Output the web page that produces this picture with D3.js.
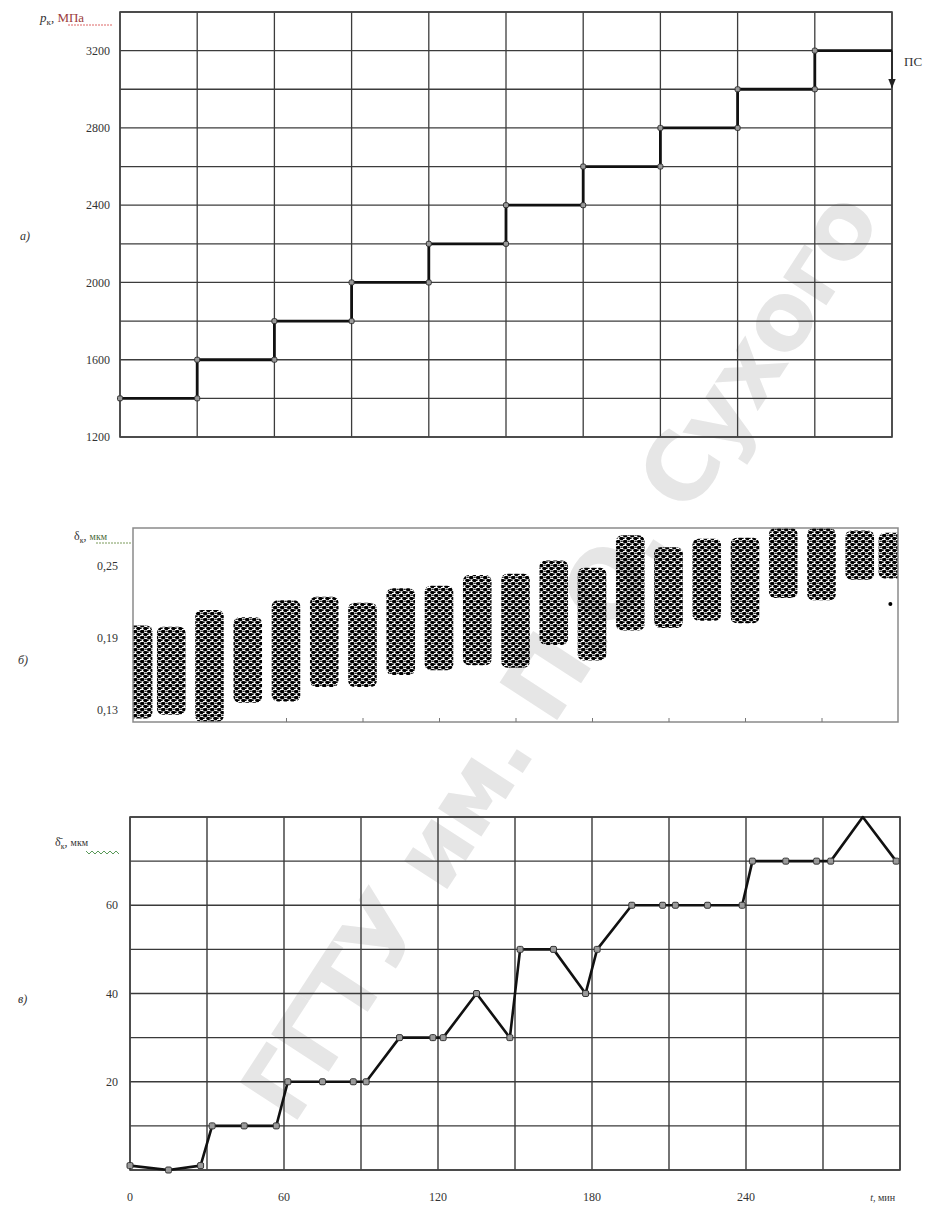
<!DOCTYPE html>
<html>
<head>
<meta charset="utf-8">
<script src="https://cdn.jsdelivr.net/npm/d3@7"></script>
<style>
  body { margin: 0; background: #fff; }
  text { font-family: "Liberation Serif", "DejaVu Serif", serif; fill: #333; }
</style>
</head>
<body>
<script>
// ---- data ----
const gridTimes = [0, 30, 60, 90, 120, 150, 180, 210, 240, 270, 300];
const xTickTimes = [0, 60, 120, 180, 240];

// a) pressure steps
const pressureGrid = [1200, 1400, 1600, 1800, 2000, 2200, 2400, 2600, 2800, 3000, 3200, 3400];
const pressureTicks = [1200, 1600, 2000, 2400, 2800, 3200];
const stepTimes = [0, 30, 60, 90, 120, 150, 180, 210, 240, 270];
const stepPressure = [1400, 1600, 1800, 2000, 2200, 2400, 2600, 2800, 3000, 3200];
const endTime = 300;
const dropPressure = 3000;

// b) scatter clusters (time, lowest, highest value)
const clusterT = [2, 15, 30, 45, 60, 75, 90, 105, 120, 135, 150, 165, 180, 195, 210, 225, 240, 255, 270, 285, 298];
const clusterLow = [0.123, 0.126, 0.120, 0.136, 0.137, 0.149, 0.149, 0.159, 0.163, 0.167, 0.165, 0.184, 0.171, 0.196, 0.198, 0.204, 0.202, 0.223, 0.221, 0.238, 0.239];
const clusterHigh = [0.200, 0.199, 0.213, 0.207, 0.221, 0.224, 0.219, 0.231, 0.233, 0.242, 0.243, 0.254, 0.248, 0.275, 0.265, 0.272, 0.273, 0.281, 0.281, 0.279, 0.277];
const outlierT = [297];
const outlierV = [0.218];
const wearTicks = [0.13, 0.19, 0.25];

// c) mean wear
const meanT = [0, 15, 27.5, 32, 44.5, 57, 61.5, 75, 87, 92, 105, 118, 122, 135, 148, 152, 165, 177.5, 182, 195.5, 207.5, 212.5, 225, 238.5, 242.5, 255.5, 267.5, 273, 285.5, 298.5];
const meanV = [1, 0, 1, 10, 10, 10, 20, 20, 20, 20, 30, 30, 30, 40, 30, 50, 50, 40, 50, 60, 60, 60, 60, 60, 70, 70, 70, 70, 80, 70];
const meanGrid = [0, 10, 20, 30, 40, 50, 60, 70, 80];
const meanTicks = [20, 40, 60];

const watermark = "ГГТУ им. П.О. Сухого";

const svg = d3.select("body").append("svg")
  .attr("width", 934)
  .attr("height", 1207);

const defs = svg.append("defs");

// speckle fill for the scatter blobs
const pat = defs.append("pattern")
  .attr("id", "speckle")
  .attr("patternUnits", "userSpaceOnUse")
  .attr("width", 7).attr("height", 6);
pat.append("rect").attr("x", 0).attr("y", 0).attr("width", 4.5).attr("height", 3.2).attr("rx", 1.4).attr("fill", "#000");
pat.append("rect").attr("x", 3.2).attr("y", 3).attr("width", 4.2).attr("height", 3).attr("rx", 1.4).attr("fill", "#000");
pat.append("rect").attr("x", 0).attr("y", 3.4).attr("width", 1.6).attr("height", 1.6).attr("fill", "#000");
pat.append("rect").attr("x", 5.2).attr("y", 0.6).attr("width", 1.4).attr("height", 1.4).attr("fill", "#000");

defs.append("marker")
  .attr("id", "arrow")
  .attr("viewBox", "0 0 10 10")
  .attr("refX", 9).attr("refY", 5)
  .attr("markerWidth", 6).attr("markerHeight", 6)
  .attr("orient", "auto")
  .append("path").attr("d", "M0,1 L10,5 L0,9 Z").attr("fill", "#222");

// watermark: letters laid one by one along the diagonal
const wm = svg.append("g");
const wmSize = 120;
const probe = wm.append("text")
  .style("font-family", "'DejaVu Sans', sans-serif")
  .style("font-weight", "bold").style("font-size", wmSize + "px");
const widths = watermark.split("").map(ch => {
  probe.text(ch === " " ? "\u00a0" : ch);
  return probe.node().getComputedTextLength();
});
probe.remove();
const total = d3.sum(widths);
const scaleW = 1080 / total;
const ang = -57 * Math.PI / 180;
let run = -540;
watermark.split("").forEach((ch, i) => {
  const w = widths[i] * scaleW;
  const c = run + w / 2;
  run += w;
  if (ch === " ") return;
  wm.append("text")
    .attr("transform", "translate(" + (560 + c * Math.cos(ang)) + "," + (655 + c * Math.sin(ang)) + ") rotate(-57)")
    .attr("text-anchor", "middle")
    .attr("dy", "0.35em")
    .style("font-family", "'DejaVu Sans', sans-serif")
    .style("font-weight", "bold")
    .style("font-size", (wmSize * Math.min(1, scaleW * 1.05)) + "px")
    .style("fill", "#e6e6e6")
    .text(ch);
});

function grid(g, xs, ys, xVals, yVals, color, width) {
  g.selectAll(".vg").data(xVals).enter().append("line")
    .attr("x1", d => xs(d)).attr("x2", d => xs(d))
    .attr("y1", ys.range()[0]).attr("y2", ys.range()[1])
    .attr("stroke", color).attr("stroke-width", width);
  g.selectAll(".hg").data(yVals).enter().append("line")
    .attr("x1", xs.range()[0]).attr("x2", xs.range()[1])
    .attr("y1", d => ys(d)).attr("y2", d => ys(d))
    .attr("stroke", color).attr("stroke-width", width);
}

function squares(g, pts, size) {
  g.selectAll(".m").data(pts).enter().append("rect")
    .attr("x", d => d[0] - size / 2).attr("y", d => d[1] - size / 2)
    .attr("width", size).attr("height", size)
    .attr("rx", 1.5)
    .attr("fill", "#9a9a9a").attr("stroke", "#333").attr("stroke-width", 1);
}

// ================= a) =================
const x1 = d3.scaleLinear().domain([0, 300]).range([120, 892]);
const y1 = d3.scaleLinear().domain([1200, 3400]).range([437, 12]);
const gA = svg.append("g");
grid(gA, x1, y1, gridTimes, pressureGrid, "#3c3c3c", 1.3);
gA.append("rect").attr("x", 120).attr("y", 12).attr("width", 772).attr("height", 425)
  .attr("fill", "none").attr("stroke", "#444").attr("stroke-width", 1.6);

const stepPts = [];
stepTimes.forEach((t, i) => {
  const next = i < stepTimes.length - 1 ? stepTimes[i + 1] : endTime;
  stepPts.push([t, stepPressure[i]]);
  stepPts.push([next, stepPressure[i]]);
});
gA.append("path")
  .attr("d", d3.line().x(d => x1(d[0])).y(d => y1(d[1]))(stepPts))
  .attr("fill", "none").attr("stroke", "#111").attr("stroke-width", 2.8);
gA.append("line")
  .attr("x1", x1(endTime)).attr("x2", x1(endTime))
  .attr("y1", y1(stepPressure[stepPressure.length - 1])).attr("y2", y1(dropPressure) - 2)
  .attr("stroke", "#222").attr("stroke-width", 1.6)
  .attr("marker-end", "url(#arrow)");

const cornerPts = [[x1(0), y1(stepPressure[0])]];
stepTimes.slice(1).forEach((t, i) => {
  cornerPts.push([x1(t), y1(stepPressure[i])]);
  cornerPts.push([x1(t), y1(stepPressure[i + 1])]);
});
squares(gA, cornerPts, 5);

gA.selectAll(".yl").data(pressureTicks).enter().append("text")
  .attr("x", 110).attr("y", d => y1(d)).attr("dy", "0.35em")
  .attr("text-anchor", "end").style("font-size", "12px")
  .text(d => d);
gA.append("text").attr("x", 904).attr("y", 66).style("font-size", "13px").text("ПС");

const tA = gA.append("text").attr("x", 40).attr("y", 22).style("font-size", "13px");
tA.append("tspan").style("font-style", "italic").text("р");
tA.append("tspan").attr("dy", 3).style("font-size", "9px").text("к");
tA.append("tspan").attr("dy", -3).text(", ");
tA.append("tspan").style("fill", "#9b3b3b").text("МПа");
gA.append("line").attr("x1", 68).attr("x2", 112).attr("y1", 25).attr("y2", 25)
  .attr("stroke", "#d66").attr("stroke-width", 1).attr("stroke-dasharray", "2,1");
gA.append("text").attr("x", 20).attr("y", 240).style("font-size", "12px")
  .style("font-style", "italic").text("а)");

// ================= б) =================
const x2 = d3.scaleLinear().domain([0, 300]).range([133, 898]);
const y2 = d3.scaleLinear().domain([0.12, 0.281]).range([722, 528]);
const gB = svg.append("g");
defs.append("clipPath").attr("id", "clipB").append("rect")
  .attr("x", 133).attr("y", 528).attr("width", 765).attr("height", 194);

const clusters = clusterT.map((t, i) => ({ t: t, lo: clusterLow[i], hi: clusterHigh[i] }));
gB.append("g").attr("clip-path", "url(#clipB)")
  .selectAll("rect").data(clusters).enter().append("rect")
  .attr("x", d => x2(d.t - 5.6))
  .attr("width", d => x2(d.t + 5.6) - x2(d.t - 5.6))
  .attr("y", d => y2(d.hi))
  .attr("height", d => y2(d.lo) - y2(d.hi))
  .attr("rx", 6)
  .attr("fill", "url(#speckle)");
gB.selectAll(".out").data(outlierT).enter().append("circle")
  .attr("cx", d => x2(d)).attr("cy", (d, i) => y2(outlierV[i])).attr("r", 2)
  .attr("fill", "#000");

gB.append("rect").attr("x", 133).attr("y", 528).attr("width", 765).attr("height", 194)
  .attr("fill", "none").attr("stroke", "#8a8a8a").attr("stroke-width", 1.5);
gB.append("g")
  .attr("transform", "translate(0,722)")
  .call(d3.axisTop(x2).tickValues(gridTimes.slice(1, -1)).tickSize(4).tickFormat(""))
  .call(g => g.select(".domain").remove())
  .selectAll("line").attr("stroke", "#777");

gB.selectAll(".yl").data(wearTicks).enter().append("text")
  .attr("x", 118).attr("y", d => y2(d)).attr("dy", "0.35em")
  .attr("text-anchor", "end").style("font-size", "12px")
  .text(d => d3.format(".2f")(d).replace(".", ","));

const tB = gB.append("text").attr("x", 74).attr("y", 540).style("font-size", "12px");
tB.append("tspan").text("δ");
tB.append("tspan").attr("dy", 3).style("font-size", "8px").text("к");
tB.append("tspan").attr("dy", -3).text(", ");
tB.append("tspan").style("fill", "#4a6a3a").style("font-size", "10px").text("мкм");
gB.append("line").attr("x1", 96).attr("x2", 132).attr("y1", 543).attr("y2", 543)
  .attr("stroke", "#7a9a5a").attr("stroke-width", 1).attr("stroke-dasharray", "2,1");
gB.append("text").attr("x", 18).attr("y", 664).style("font-size", "12px")
  .style("font-style", "italic").text("б)");

// ================= в) =================
const x3 = d3.scaleLinear().domain([0, 300]).range([130, 900]);
const y3 = d3.scaleLinear().domain([0, 80]).range([1170, 817]);
const gC = svg.append("g");
grid(gC, x3, y3, gridTimes, meanGrid, "#3a3a3a", 1.4);
gC.append("rect").attr("x", 130).attr("y", 817).attr("width", 770).attr("height", 353)
  .attr("fill", "none").attr("stroke", "#444").attr("stroke-width", 1.6);

const meanPts = meanT.map((t, i) => [t, meanV[i]]);
gC.append("path")
  .attr("d", d3.line().x(d => x3(d[0])).y(d => y3(d[1]))(meanPts))
  .attr("fill", "none").attr("stroke", "#111").attr("stroke-width", 2.6)
  .attr("stroke-linejoin", "round");
squares(gC, meanPts.filter(d => d[1] < 80).map(d => [x3(d[0]), y3(d[1])]), 6);

gC.selectAll(".yl").data(meanTicks).enter().append("text")
  .attr("x", 118).attr("y", d => y3(d)).attr("dy", "0.35em")
  .attr("text-anchor", "end").style("font-size", "12px")
  .text(d => d);
gC.selectAll(".xl").data(xTickTimes).enter().append("text")
  .attr("x", d => x3(d)).attr("y", 1201)
  .attr("text-anchor", "middle").style("font-size", "12px")
  .text(d => d);
const tX = gC.append("text").attr("x", 895).attr("y", 1201)
  .attr("text-anchor", "end").style("font-size", "10px");
tX.append("tspan").style("font-style", "italic").text("t");
tX.append("tspan").text(", мин");

const tC = gC.append("text").attr("x", 55).attr("y", 846).style("font-size", "12px");
tC.append("tspan").text("δ̄");
tC.append("tspan").attr("dy", 3).style("font-size", "8px").text("к");
tC.append("tspan").attr("dy", -3).text(", ");
tC.append("tspan").style("font-size", "10px").text("мкм");
gC.append("path")
  .attr("d", "M86,851 l3,3 l3,-3 l3,3 l3,-3 l3,3 l3,-3 l3,3 l3,-3 l3,3 l3,-3 l3,3")
  .attr("fill", "none").attr("stroke", "#5a9a5a").attr("stroke-width", 1);
gC.append("text").attr("x", 18).attr("y", 1003).style("font-size", "12px")
  .style("font-style", "italic").text("в)");
</script>
</body>
</html>
